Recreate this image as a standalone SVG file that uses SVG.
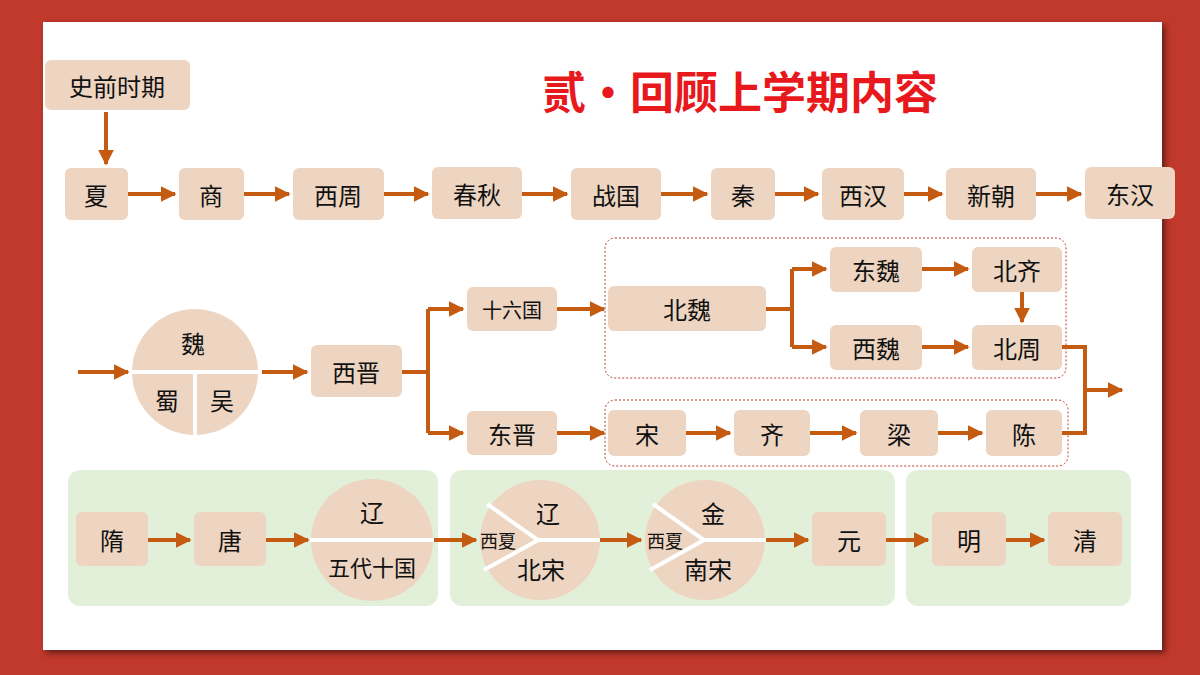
<svg xmlns="http://www.w3.org/2000/svg" width="1200" height="675" viewBox="0 0 1200 675">
<defs>
<marker id="ah" viewBox="0 0 10 10" refX="9" refY="5" markerWidth="4" markerHeight="4" orient="auto" markerUnits="strokeWidth"><path d="M0,0L10,5L0,10z" fill="#C55A11"/></marker>
<filter id="sh" x="-5%" y="-5%" width="110%" height="110%"><feDropShadow dx="3" dy="3" stdDeviation="3" flood-opacity="0.5"/></filter>
</defs>
<style>
.b{fill:#EDD5C1}
.c{fill:#EDD5C1}
.t{font-family:"Noto Sans CJK SC","Noto Sans CJK JP",sans-serif;font-size:24px;fill:#111;text-anchor:middle;dominant-baseline:central}
.s{font-size:18px}
.a{stroke:#C55A11;stroke-width:4;fill:none}
.m{marker-end:url(#ah)}
.w{stroke:#fff;stroke-width:4;fill:none}
.d{fill:none;stroke:#C0392B;stroke-width:1;stroke-dasharray:2 2}
.g{fill:#E2F0D9}
</style>
<rect width="1200" height="675" fill="#C0392B"/>
<rect x="43" y="22" width="1119" height="628" fill="#fff" filter="url(#sh)"/>
<text x="740" y="90" font-family="'Noto Sans CJK SC',sans-serif" font-size="44" font-weight="bold" fill="#E8191C" text-anchor="middle" dominant-baseline="central">贰·回顾上学期内容</text>
<rect class="g" x="68" y="470" width="370" height="136" rx="12"/>
<rect class="g" x="450" y="470" width="445" height="136" rx="12"/>
<rect class="g" x="906" y="470" width="225" height="136" rx="12"/>
<rect class="d" x="605" y="238" width="461" height="140" rx="10"/>
<rect class="d" x="605" y="400" width="463" height="66" rx="10"/>
<g id="connectors">
<path class="a m" d="M106,112V164"/>
<path class="a m" d="M128,194H175"/>
<path class="a m" d="M244,194H289"/>
<path class="a m" d="M384,194H428"/>
<path class="a m" d="M522,194H567"/>
<path class="a m" d="M661,194H707"/>
<path class="a m" d="M775,194H818"/>
<path class="a m" d="M904,194H942"/>
<path class="a m" d="M1036,194H1081"/>
<path class="a m" d="M78,372H128"/>
<path class="a m" d="M262,372H307"/>
<path class="a" d="M402,372H428M428,309V433"/>
<path class="a m" d="M428,309H463"/>
<path class="a m" d="M428,433H463"/>
<path class="a m" d="M557,309H604"/>
<path class="a m" d="M557,433H604"/>
<path class="a" d="M766,309H792M792,269V347"/>
<path class="a m" d="M792,269H826"/>
<path class="a m" d="M792,347H826"/>
<path class="a m" d="M922,269H968"/>
<path class="a m" d="M922,347H968"/>
<path class="a m" d="M1022,292V322"/>
<path class="a m" d="M686,433H730"/>
<path class="a m" d="M810,433H856"/>
<path class="a m" d="M938,433H982"/>
<path class="a" d="M1062,347H1085V433H1062"/>
<path class="a m" d="M1085,390H1122"/>
<path class="a m" d="M148,540H190"/>
<path class="a m" d="M266,540H308"/>
<path class="a m" d="M433,540H476"/>
<path class="a m" d="M600,540H641"/>
<path class="a m" d="M766,540H808"/>
<path class="a m" d="M886,540H928"/>
<path class="a m" d="M1006,540H1044"/>
</g>
<g id="n-shiqian"><rect class="b" x="45" y="60" width="145" height="50" rx="6"/><text class="t" x="117" y="85">史前时期</text></g>
<g id="n-xia"><rect class="b" x="65" y="168" width="63" height="52" rx="6"/><text class="t" x="96" y="194">夏</text></g>
<g id="n-shang"><rect class="b" x="179" y="168" width="65" height="52" rx="6"/><text class="t" x="211" y="194">商</text></g>
<g id="n-xizhou"><rect class="b" x="293" y="168" width="91" height="52" rx="6"/><text class="t" x="338" y="194">西周</text></g>
<g id="n-chunqiu"><rect class="b" x="432" y="167" width="90" height="52" rx="6"/><text class="t" x="477" y="193">春秋</text></g>
<g id="n-zhanguo"><rect class="b" x="571" y="168" width="90" height="52" rx="6"/><text class="t" x="616" y="194">战国</text></g>
<g id="n-qin"><rect class="b" x="711" y="168" width="64" height="52" rx="6"/><text class="t" x="743" y="194">秦</text></g>
<g id="n-xihan"><rect class="b" x="822" y="168" width="82" height="52" rx="6"/><text class="t" x="863" y="194">西汉</text></g>
<g id="n-xinchao"><rect class="b" x="946" y="168" width="90" height="52" rx="6"/><text class="t" x="991" y="194">新朝</text></g>
<g id="n-donghan"><rect class="b" x="1085" y="167" width="90" height="52" rx="6"/><text class="t" x="1130" y="193">东汉</text></g>
<g id="n-sanguo"><circle class="c" cx="195" cy="372" r="63"/><path class="w" d="M130,372H260M195,372V437"/><text class="t" x="193" y="342">魏</text><text class="t" x="167" y="399">蜀</text><text class="t" x="222" y="399">吴</text></g>
<g id="n-xijin"><rect class="b" x="311" y="345" width="91" height="52" rx="6"/><text class="t" x="356" y="371">西晋</text></g>
<g id="n-shiliu"><rect class="b" x="467" y="287" width="90" height="44" rx="6"/><text class="t s" x="512" y="309" style="font-size:20px">十六国</text></g>
<g id="n-dongjin"><rect class="b" x="467" y="411" width="90" height="44" rx="6"/><text class="t" x="512" y="433">东晋</text></g>
<g id="n-beiwei"><rect class="b" x="608" y="286" width="158" height="45" rx="6"/><text class="t" x="687" y="308">北魏</text></g>
<g id="n-dongwei"><rect class="b" x="830" y="247" width="92" height="45" rx="6"/><text class="t" x="876" y="269">东魏</text></g>
<g id="n-xiwei"><rect class="b" x="830" y="325" width="92" height="45" rx="6"/><text class="t" x="876" y="347">西魏</text></g>
<g id="n-beiqi"><rect class="b" x="972" y="247" width="90" height="45" rx="6"/><text class="t" x="1017" y="269">北齐</text></g>
<g id="n-beizhou"><rect class="b" x="972" y="325" width="90" height="45" rx="6"/><text class="t" x="1017" y="347">北周</text></g>
<g id="n-song"><rect class="b" x="608" y="410" width="78" height="46" rx="6"/><text class="t" x="647" y="433">宋</text></g>
<g id="n-qi"><rect class="b" x="734" y="410" width="76" height="46" rx="6"/><text class="t" x="772" y="433">齐</text></g>
<g id="n-liang"><rect class="b" x="860" y="410" width="78" height="46" rx="6"/><text class="t" x="899" y="433">梁</text></g>
<g id="n-chen"><rect class="b" x="986" y="410" width="76" height="46" rx="6"/><text class="t" x="1024" y="433">陈</text></g>
<g id="n-sui"><rect class="b" x="76" y="512" width="72" height="54" rx="6"/><text class="t" x="112" y="539">隋</text></g>
<g id="n-tang"><rect class="b" x="194" y="512" width="72" height="54" rx="6"/><text class="t" x="230" y="539">唐</text></g>
<g id="n-wudai"><circle class="c" cx="372" cy="540" r="61"/><path class="w" d="M310,540H434"/><text class="t" x="372" y="511">辽</text><text class="t" x="372" y="566" style="font-size:22px">五代十国</text></g>
<g id="n-beisong"><circle class="c" cx="540" cy="540" r="60"/><path class="w" d="M487,504L538,540L484,570M538,540H600"/><text class="t s" x="498" y="540">西夏</text><text class="t" x="548" y="512">辽</text><text class="t" x="541" y="568">北宋</text></g>
<g id="n-nansong"><circle class="c" cx="705" cy="540" r="60"/><path class="w" d="M653,504L704,540L650,570M704,540H766"/><text class="t s" x="665" y="540">西夏</text><text class="t" x="713" y="512">金</text><text class="t" x="708" y="568">南宋</text></g>
<g id="n-yuan"><rect class="b" x="812" y="512" width="74" height="54" rx="6"/><text class="t" x="849" y="539">元</text></g>
<g id="n-ming"><rect class="b" x="932" y="512" width="74" height="54" rx="6"/><text class="t" x="969" y="539">明</text></g>
<g id="n-qing"><rect class="b" x="1048" y="512" width="74" height="54" rx="6"/><text class="t" x="1085" y="539">清</text></g>
</svg>
